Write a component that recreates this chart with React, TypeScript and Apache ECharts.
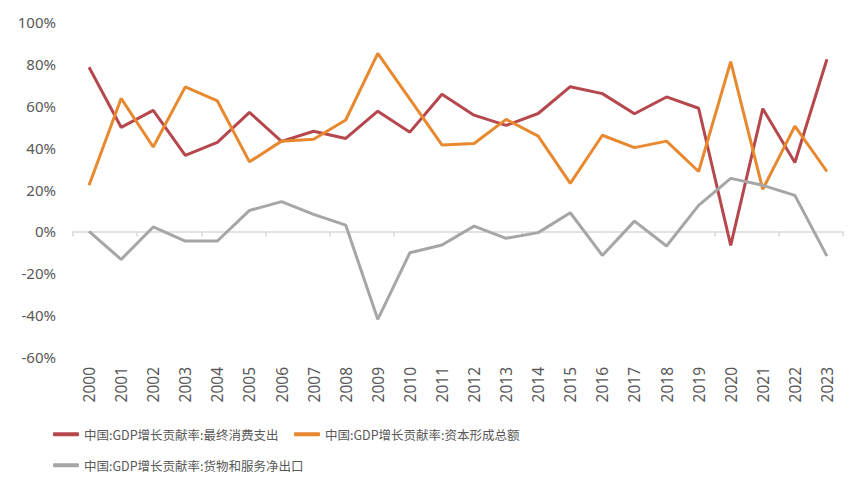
import React, { useEffect, useRef } from "react";
import * as echarts from "echarts";

const years = ["2000","2001","2002","2003","2004","2005","2006","2007","2008","2009","2010","2011","2012","2013","2014","2015","2016","2017","2018","2019","2020","2021","2022","2023"];
const consumption = [78.4, 49.7, 57.8, 36.3, 42.5, 56.8, 43.0, 47.8, 44.4, 57.4, 47.4, 65.5, 55.5, 50.6, 56.3, 69.1, 65.8, 56.2, 64.2, 58.8, -6.7, 58.6, 32.9, 82.2];
const capital = [22.0, 63.5, 40.3, 69.0, 62.3, 33.2, 43.1, 44.0, 53.2, 85.0, 63.2, 41.3, 42.0, 53.5, 45.5, 22.9, 45.9, 40.0, 43.1, 28.6, 81.1, 20.1, 50.3, 28.6];
const netExports = [0.0, -13.4, 2.1, -4.6, -4.6, 10.0, 14.2, 8.1, 3.0, -42.0, -10.2, -6.5, 2.5, -3.3, -0.6, 8.9, -11.5, 4.9, -7.0, 12.4, 25.3, 22.0, 17.2, -11.8];
const seriesNames = ["中国:GDP增长贡献率:最终消费支出", "中国:GDP增长贡献率:资本形成总额", "中国:GDP增长贡献率:货物和服务净出口"];
const colors = ["#B5474D", "#E8892F", "#A6A6A6"];

export default function App() {
  const ref = useRef<HTMLDivElement>(null);
  useEffect(() => {
    document.body.style.margin = "0";
    const chart = echarts.init(ref.current!, null, { renderer: "svg" });
    const legendBase = {
      icon: "roundRect",
      itemWidth: 26,
      itemHeight: 4,
      itemGap: 6,
      textStyle: { color: "#595959", fontSize: 12.5, fontFamily: "Noto Sans CJK SC" },
      selectedMode: false,
      padding: 0,
    };
    chart.setOption({
      animation: false,
      color: colors,
      grid: { left: 73, right: 24, top: 22, bottom: 135 },
      legend: [
        { ...legendBase, data: [seriesNames[0]], left: 53, top: 428 },
        { ...legendBase, data: [seriesNames[1]], left: 294, top: 428 },
        { ...legendBase, data: [seriesNames[2]], left: 53, top: 459 },
      ],
      xAxis: [
        {
          type: "category",
          data: years,
          position: "bottom",
          axisLine: { show: false, onZero: false },
          axisTick: { show: false },
          axisLabel: { rotate: 90, margin: 10, color: "#595959", fontSize: 15.5, fontFamily: "Noto Sans" },
        },
        {
          type: "category",
          data: years,
          position: "top",
          axisLine: { show: true, onZero: true, lineStyle: { color: "#D9D9D9", width: 1.5 } },
          axisTick: { show: true, inside: true, length: 5, lineStyle: { color: "#D9D9D9", width: 1.5 } },
          axisLabel: { show: false },
        },
      ],
      yAxis: {
        type: "value",
        min: -60,
        max: 100,
        interval: 20,
        splitLine: { show: false },
        axisLine: { show: false },
        axisTick: { show: false },
        axisLabel: { formatter: "{value}%", color: "#595959", fontSize: 15, fontFamily: "Noto Sans", margin: 17 },
      },
      series: [
        { name: seriesNames[0], type: "line", data: consumption, symbol: "none", lineStyle: { width: 3, color: colors[0] }, itemStyle: { color: colors[0] } },
        { name: seriesNames[1], type: "line", data: capital, symbol: "none", lineStyle: { width: 3, color: colors[1] }, itemStyle: { color: colors[1] } },
        { name: seriesNames[2], type: "line", data: netExports, symbol: "none", lineStyle: { width: 3, color: colors[2] }, itemStyle: { color: colors[2] } },
      ],
    });
    return () => chart.dispose();
  }, []);
  return <div ref={ref} style={{ width: 867, height: 492 }} />;
}
